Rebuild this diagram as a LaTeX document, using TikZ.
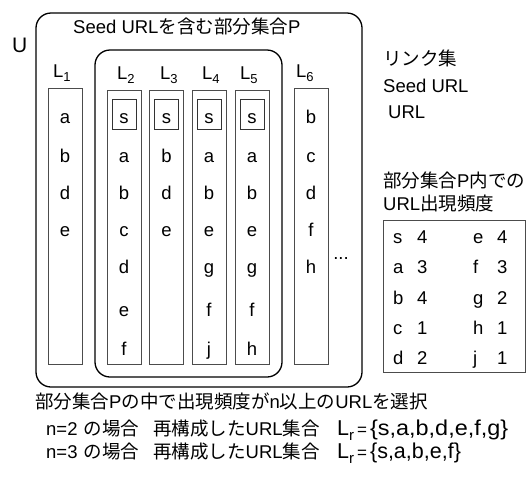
\documentclass[tikz,border=0pt]{standalone}
\usepackage{fontspec}
\setmainfont{Liberation Sans}
\newfontfamily\jp{Noto Sans CJK JP}
\newcommand{\J}[1]{{\jp #1}}
\newcommand{\lsub}[1]{L\raisebox{-4pt}{\fontsize{13}{13}\selectfont #1}}
\newcommand{\lrsub}{L\raisebox{-5pt}{\fontsize{15}{15}\selectfont r}}
\begin{document}
\begin{tikzpicture}[x=1pt,y=-1pt,
  every node/.style={inner sep=0pt, font=\fontsize{18.5}{22}\selectfont},
  frame/.style={draw, line width=1.3pt, rounded corners=15pt},
  col/.style={draw=black!70, line width=0.8pt, minimum width=34pt},
  sbox/.style={draw=black!80, line width=0.8pt, minimum width=24pt, minimum height=30pt},
  txt/.style={anchor=base west},
  ltr/.style={anchor=base},
  big/.style={font=\fontsize{21.5}{25}\selectfont}]
\useasboundingbox (0,0) rectangle (527,483);
% outer U
\node[frame, minimum width=326pt, minimum height=374pt] (U) at (199,200) {};
\node[txt, font=\fontsize{21}{24}\selectfont] (ulab) at (12,52) {U};
\node[txt] (ptitle) at (73,33) {Seed URL\J{を含む部分集合}P};
% inner P
\node[frame, minimum width=187pt, minimum height=327pt] (P) at (188.5,213.5) {};
% labels
\node[txt] (l1) at (53,77) {\lsub{1}};
\node[txt] (l2) at (117,79) {\lsub{2}};
\node[txt] (l3) at (160,79) {\lsub{3}};
\node[txt] (l4) at (202,79) {\lsub{4}};
\node[txt] (l5) at (240,79) {\lsub{5}};
\node[txt] (l6) at (296,77) {\lsub{6}};
% columns
\node[col, minimum height=276pt] (c1) at (65,226) {};
\node[col, minimum height=274pt] (c2) at (124,227) {};
\node[col, minimum height=274pt] (c3) at (166.5,227) {};
\node[col, minimum height=274pt] (c4) at (209,227) {};
\node[col, minimum height=274pt] (c5) at (252,227) {};
\node[col, minimum height=276pt] (c6) at (311,226) {};
% seed boxes
\node[sbox] (s2) at (124,114) {};
\node[sbox] (s3) at (166.5,114) {};
\node[sbox] (s4) at (209,114) {};
\node[sbox] (s5) at (252,114) {};
% letters
\foreach \col/\x/\list in {1/65/{a,b,d,e},2/124/{s,a,b,c,d,e,f},3/166.5/{s,b,d,e},4/209/{s,a,b,e,g,f,j},5/252/{s,a,b,e,g,f,h},6/311/{b,c,d,f,h}}{
  \foreach \ch [count=\i] in \list {
    \ifcase\i\or\def\yy{123}\or\def\yy{162}\or\def\yy{199}\or\def\yy{236}\or\def\yy{273}\or\def\yy{316}\or\def\yy{355}\fi
    \node[ltr] (t\col-\i) at (\x,\yy) {\ch};
  }
}
\node[ltr] (dots) at (341,259) {...};
% legend
\node[txt] (leg1) at (383,65) {\J{リンク集}};
\node[txt] (leg2) at (383,92) {Seed URL};
\node[txt] (leg3) at (388,118) {URL};
% frequency
\node[txt] (ft1) at (383,187) {\J{部分集合}P\J{内での}};
\node[txt] (ft2) at (383,210) {URL\J{出現頻度}};
\node[draw=black!70, line width=0.8pt, minimum width=142pt, minimum height=152pt] (tab) at (454,296) {};
\foreach \a/\na/\b/\nb/\yy in {s/4/e/4/243, a/3/f/3/273, b/4/g/2/304, c/1/h/1/334, d/2/j/1/364}{
  \node[txt] (fa\a) at (393,\yy) {\a};
  \node[txt] (fn\a) at (417,\yy) {\na};
  \node[txt] (fb\b) at (473,\yy) {\b};
  \node[txt] (fm\b) at (497,\yy) {\nb};
}
% bottom text
\node[txt] (b1) at (35,408) {\J{部分集合}P\J{の中で出現頻度が}n\J{以上の}URL\J{を選択}};
\node[txt] (b2a) at (46,435) {n=2\hspace{6pt}\J{の場合}};
\node[txt] (b2b) at (153,435) {\J{再構成した}URL\J{集合}};
\node[txt, big] (b2c) at (337,435) {\lrsub\hspace{3pt}{\fontsize{17}{17}\selectfont =}\hspace{3pt}\scalebox{1.09}[1]{\{s,a,b,d,e,f,g\}}};
\node[txt] (b3a) at (46,458) {n=3\hspace{6pt}\J{の場合}};
\node[txt] (b3b) at (153,458) {\J{再構成した}URL\J{集合}};
\node[txt, big] (b3c) at (337,458) {\lrsub\hspace{3pt}{\fontsize{17}{17}\selectfont =}\hspace{3pt}\{s,a,b,e,f\}};
\end{tikzpicture}
\end{document}
